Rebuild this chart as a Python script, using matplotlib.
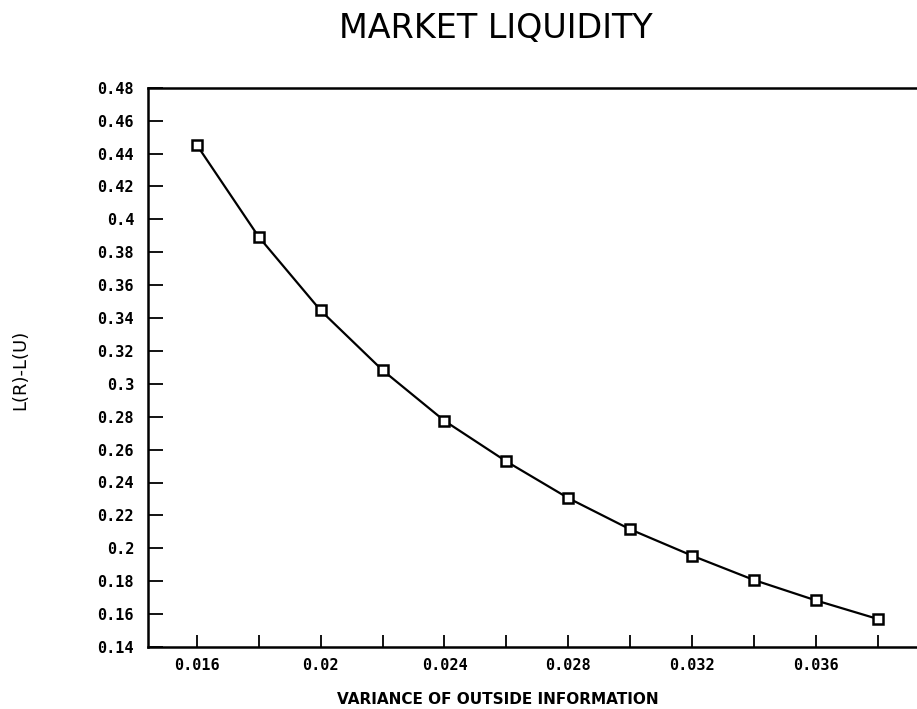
import matplotlib
matplotlib.use('Agg')
from matplotlib import pyplot as plt
from matplotlib.ticker import MultipleLocator, FixedLocator
from matplotlib.font_manager import FontProperties

# variance of outside information vs. liquidity gap L(R)-L(U)
variance = [0.016, 0.018, 0.020, 0.022, 0.024, 0.026,
            0.028, 0.030, 0.032, 0.034, 0.036, 0.038]
liq_gap = [0.4453, 0.3894, 0.3446, 0.3083, 0.2775, 0.2528,
           0.2305, 0.2115, 0.1955, 0.1807, 0.1683, 0.1570]

xticks = [0.016, 0.020, 0.024, 0.028, 0.032, 0.036]
xticklabels = ['0.016', '0.02', '0.024', '0.028', '0.032', '0.036']
yticks = [0.14, 0.16, 0.18, 0.20, 0.22, 0.24, 0.26, 0.28, 0.30,
          0.32, 0.34, 0.36, 0.38, 0.40, 0.42, 0.44, 0.46, 0.48]
yticklabels = ['0.14', '0.16', '0.18', '0.2', '0.22', '0.24', '0.26', '0.28', '0.3',
               '0.32', '0.34', '0.36', '0.38', '0.4', '0.42', '0.44', '0.46', '0.48']

W, H = 917, 709
fig = plt.figure(figsize=(W/100, H/100), dpi=100)
ax = fig.add_axes([148/W, 62/H, 1 - 148/W, (647 - 87.7)/H])

ax.plot(variance, liq_gap, color='black', lw=1.6, marker='s', ms=7,
        mfc='white', mec='black', mew=1.8)

ax.set_xlim(0.014427, 0.03926)
ax.set_ylim(0.14, 0.48)

ax.xaxis.set_major_locator(FixedLocator(xticks))
ax.set_xticklabels(xticklabels)
ax.xaxis.set_minor_locator(MultipleLocator(0.002))
ax.yaxis.set_major_locator(FixedLocator(yticks))
ax.set_yticklabels(yticklabels)

ax.tick_params(axis='x', which='both', direction='in', length=9, width=1.3, pad=8)
ax.tick_params(axis='y', which='both', direction='in', length=11, width=1.3, pad=10)
tick_font = FontProperties(family='DejaVu Sans Mono', weight='bold', size=11)
for lab in ax.get_xticklabels() + ax.get_yticklabels():
    lab.set_fontproperties(tick_font)

for side in ['left', 'bottom', 'top']:
    ax.spines[side].set_linewidth(1.8)
ax.spines['right'].set_visible(False)

fig.text(496/W, 1 - 28/H, 'MARKET LIQUIDITY', ha='center', va='center',
         fontsize=24, family='DejaVu Sans')
fig.text(498/W, 1 - 699/H, 'VARIANCE OF OUTSIDE INFORMATION', ha='center', va='center',
         fontsize=11, fontweight='bold', family='DejaVu Sans')
fig.text(20/W, 1 - 370/H, 'L(R)-L(U)', ha='center', va='center', rotation=90,
         fontsize=13, family='DejaVu Sans')

fig.savefig('out.png', dpi=100)
